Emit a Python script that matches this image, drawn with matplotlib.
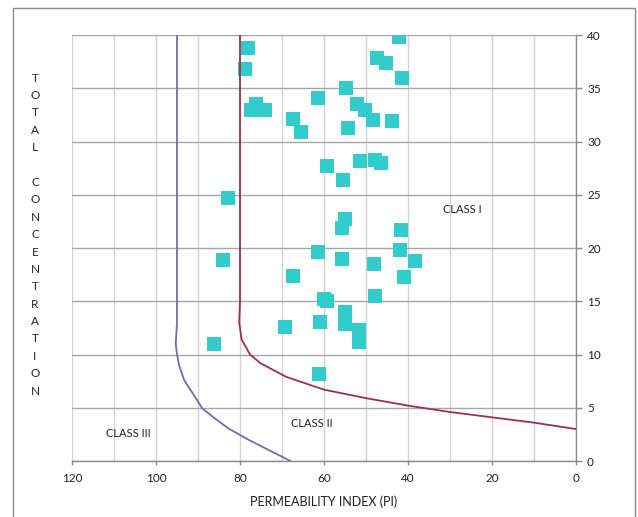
import matplotlib.pyplot as plt
from matplotlib.patches import Rectangle
import numpy as np

plt.rcParams['font.family'] = ['Lato', 'DejaVu Sans']

# sample points: permeability index vs total concentration
pi_values = [42.1, 78.0, 78.7, 47.5, 45.2, 41.4, 54.7, 61.4, 52.1, 50.2,
             48.3, 43.7, 54.2, 76.1, 77.3, 74.0, 67.5, 65.4, 59.2, 51.4,
             47.8, 46.4, 55.4, 82.8, 54.9, 55.6, 41.6, 41.8, 61.4, 55.6,
             48.0, 38.3, 84.0, 67.3, 40.9, 47.8, 59.9, 59.4, 54.9, 54.9,
             60.9, 69.4, 51.6, 51.6, 86.1, 61.1]
tc_values = [39.8, 38.8, 36.8, 37.8, 37.4, 36.0, 35.0, 34.1, 33.5, 33.0,
             32.05, 31.95, 31.3, 33.5, 32.96, 32.96, 32.1, 30.9, 27.7, 28.2,
             28.3, 28.0, 26.4, 24.7, 22.75, 21.9, 21.7, 19.8, 19.6, 19.0,
             18.5, 18.8, 18.9, 17.4, 17.3, 15.5, 15.2, 15.0, 14.0, 12.9,
             13.05, 12.6, 12.3, 11.2, 11.0, 8.2]

# class I / class II boundary
b1_pi = [80, 80, 80.2, 79.6, 77.6, 75.2, 69, 60, 50, 40, 30, 20, 10, 0]
b1_tc = [40, 15, 13, 11.4, 10, 9.2, 7.9, 6.7, 5.9, 5.2, 4.6, 4.1, 3.6, 3.0]

# class II / class III boundary
b2_pi = [95, 95, 95.3, 95, 94.5, 93.3, 92, 90.5, 89, 86, 82.8, 78, 73, 68]
b2_tc = [40, 13, 11, 10, 9, 7.6, 6.8, 5.9, 4.95, 4.0, 3.07, 2.0, 1.0, 0]

fig = plt.figure(figsize=(6.38, 5.17), dpi=100)
ax = fig.add_axes([72/638, 1-461/517, 504/638, 426/517])

# frame around the whole chart area
fig.patches.append(Rectangle((13/638, -0.02), 622/638, 1-8/517+0.02,
                             transform=fig.transFigure, fill=False,
                             edgecolor='#8a8a8a', linewidth=1.0))

ax.scatter(pi_values, tc_values, marker='s', s=90, color='#33CCCC',
           linewidths=0, zorder=3)
ax.plot(b1_pi, b1_tc, color='#9B2D5F', linewidth=1.3, zorder=4)
ax.plot(b2_pi, b2_tc, color='#6E6EA8', linewidth=1.3, zorder=4)

ax.set_xlim(120, 0)
ax.set_ylim(0, 40)
ax.set_xticks(np.arange(0, 121, 20))
ax.set_xticks(np.arange(0, 121, 10), minor=True)
ax.set_yticks(np.arange(0, 41, 5))
ax.yaxis.tick_right()

ax.grid(True, axis='x', which='both', color='#D2D2D2', linewidth=1.0, zorder=0)
ax.grid(True, axis='y', which='major', color='#A6A6A6', linewidth=1.0, zorder=0)
ax.set_axisbelow(True)

for side in ['left', 'top']:
    ax.spines[side].set_visible(False)
for side in ['right', 'bottom']:
    ax.spines[side].set_color('#8a8a8a')
    ax.spines[side].set_linewidth(1.0)

ax.tick_params(axis='x', which='major', direction='out', length=3, width=1,
               color='#8a8a8a', labelsize=8.5, pad=6, labelcolor='#222222')
ax.tick_params(axis='x', which='minor', length=0)
ax.tick_params(axis='y', direction='out', length=4, width=1, color='#8a8a8a',
               labelsize=8.5, pad=4, labelcolor='#222222')

ax.set_xlabel('PERMEABILITY INDEX (PI)', fontsize=9, labelpad=8, color='#222222')

# vertical stacked label on the left
letters = list('TOTAL') + [''] + list('CONCENTRATION')
for i, ch in enumerate(letters):
    fig.text(35/638, 1-(78 + i*17.4)/517, ch, ha='center', va='center',
             fontsize=8.5, color='#222222')

ax.text(27, 23.6, 'CLASS I', ha='center', va='center', fontsize=8, color='#222222')
ax.text(63, 3.5, 'CLASS II', ha='center', va='center', fontsize=8, color='#222222')
ax.text(106.5, 2.6, 'CLASS III', ha='center', va='center', fontsize=8, color='#222222')

fig.savefig('out.png', dpi=100)
